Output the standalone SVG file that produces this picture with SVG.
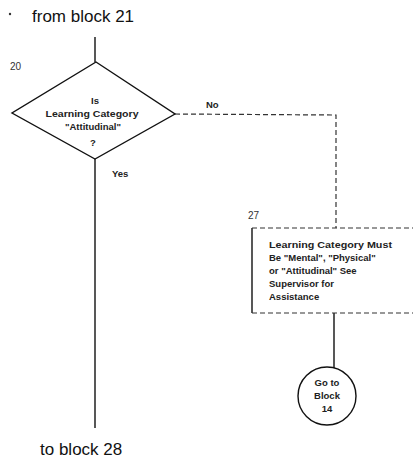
<svg xmlns="http://www.w3.org/2000/svg" width="413" height="466" viewBox="0 0 413 466">
<style>
.ln{stroke:#111;stroke-width:1.4;fill:none}
.dash{stroke:#333;stroke-width:1.2;fill:none;stroke-dasharray:5 3}
.big{font-family:"Liberation Sans",Arial,sans-serif;font-size:17px;fill:#111}
.sm{font-family:"Liberation Sans",Arial,sans-serif;font-size:9.5px;font-weight:bold;fill:#222}
.lbl{font-family:"Liberation Sans",Arial,sans-serif;font-size:10px;fill:#333}
</style>
<rect width="413" height="466" fill="#fff"/>
<g id="from21">
<circle cx="10" cy="14" r="1.2" fill="#333"/>
<text class="big" x="32" y="22">from block 21</text>
</g>
<g id="connectors">
<line class="ln" x1="95" y1="37" x2="95" y2="62"/>
<line class="ln" x1="95" y1="159" x2="95" y2="428"/>
<polyline class="dash" points="175,114 336,115 336,228"/>
<line class="ln" x1="334" y1="313" x2="334" y2="368"/>
<text class="sm" x="206" y="108">No</text>
<text class="sm" x="112" y="177">Yes</text>
</g>
<g id="n20">
<polygon class="ln" points="96,62 175,114 95,159 12,113"/>
<text class="lbl" x="10" y="70">20</text>
<text class="sm" text-anchor="middle" x="95" y="104">Is</text>
<text class="sm" text-anchor="middle" x="92" y="117" textLength="93" lengthAdjust="spacingAndGlyphs">Learning Category</text>
<text class="sm" text-anchor="middle" x="93" y="130">"Attitudinal"</text>
<text class="sm" text-anchor="middle" x="93" y="146">?</text>
</g>
<g id="n27">
<line class="ln" x1="252" y1="228" x2="252" y2="313"/>
<line class="dash" x1="252" y1="228" x2="413" y2="228"/>
<line class="dash" x1="252" y1="313" x2="413" y2="313"/>
<text class="lbl" x="248" y="219">27</text>
<text class="sm" x="269" y="248" textLength="123" lengthAdjust="spacingAndGlyphs">Learning Category Must</text>
<text class="sm" x="269" y="261">Be "Mental", "Physical"</text>
<text class="sm" x="269" y="274">or "Attitudinal"  See</text>
<text class="sm" x="269" y="287">Supervisor for</text>
<text class="sm" x="269" y="300">Assistance</text>
</g>
<g id="goto14">
<circle class="ln" cx="327" cy="396" r="29"/>
<text class="sm" text-anchor="middle" x="327" y="386">Go to</text>
<text class="sm" text-anchor="middle" x="327" y="399">Block</text>
<text class="sm" text-anchor="middle" x="327" y="412">14</text>
</g>
<g id="to28">
<text class="big" x="40" y="455">to block 28</text>
</g>
</svg>
